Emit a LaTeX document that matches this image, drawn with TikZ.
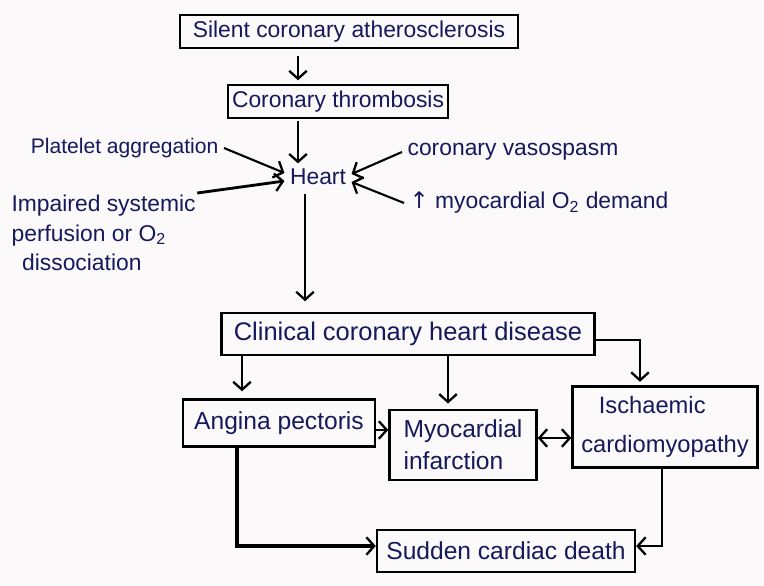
\documentclass[tikz,border=0pt]{standalone}
\usepackage{fontspec}
\setmainfont{Liberation Sans}
\newfontfamily\symfont{DejaVu Sans}
\usetikzlibrary{arrows.meta,calc}

\definecolor{ink}{HTML}{16195C}
\definecolor{paper}{HTML}{FBF9FA}

\tikzset{
  box/.style={draw=black, line width=1.4pt, text=ink, inner sep=2pt},
  lbl/.style={text=ink, inner sep=3pt},
  barb/.tip={Straight Barb[length=4.5pt,width=10pt,line width=1.3pt]},
  arr/.style={draw=black, line width=1.2pt, -barb},
  darr/.style={draw=black, line width=1.2pt, barb-barb},
}

\begin{document}
\begin{tikzpicture}[x=0.02cm, y=-0.02cm]
  % canvas
  \fill[paper] (0,0) rectangle (764,585);
  \useasboundingbox (0,0) rectangle (764,585);

  % boxed stages
  \node[box, minimum width=6.76cm, minimum height=0.66cm, font=\fontsize{13}{15}\selectfont]
    (silent) at (349,31.5) {Silent coronary atherosclerosis};
  \node[box, minimum width=4.4cm, minimum height=0.66cm, font=\fontsize{13}{15}\selectfont]
    (thromb) at (338,101.5) {Coronary thrombosis};
  \node[box, minimum width=7.46cm, minimum height=0.84cm, font=\fontsize{14.5}{16}\selectfont]
    (clin) at (408,334) {Clinical coronary heart disease};
  \node[box, minimum width=3.84cm, minimum height=0.94cm, font=\fontsize{14}{16}\selectfont]
    (angina) at (279,423) {Angina pectoris};
  \node[box, minimum width=2.94cm, minimum height=1.4cm, align=left, font=\fontsize{14}{18}\selectfont]
    (mi) at (463,445) {Myocardial\\infarction};
  \node[box, minimum width=3.7cm, minimum height=1.62cm, align=left, font=\fontsize{13.5}{22}\selectfont]
    (ic) at (665,427) {\hspace*{10pt}Ischaemic\\cardiomyopathy};
  \node[box, minimum width=5.16cm, minimum height=0.84cm, font=\fontsize{14}{16}\selectfont]
    (scd) at (506,551) {Sudden cardiac death};

  % the heart and the factors acting on it
  \node[lbl, font=\fontsize{13}{15}\selectfont] (heart) at (318,177) {Heart};
  \node[lbl, anchor=east, font=\fontsize{12}{14}\selectfont] (plat) at (224,148) {Platelet aggregation};
  \node[lbl, anchor=north west, align=left, font=\fontsize{13}{17}\selectfont]
    (imp) at (6,189) {Impaired systemic\\perfusion or O\textsubscript{2}\\\hspace*{6pt}dissociation};
  \node[lbl, anchor=west, font=\fontsize{13}{15}\selectfont] (vaso) at (402,152) {coronary vasospasm};
  \node[lbl, anchor=west, font=\fontsize{13}{15}\selectfont] (dem) at (404,203)
    {{\symfont ↑} myocardial O\textsubscript{2} demand};

  % columns and rows that the connectors follow
  \coordinate (k1) at (298,0);
  \coordinate (k2) at (305,0);
  \coordinate (k3) at (242,0);
  \coordinate (k4) at (448,0);
  \coordinate (k5) at (640,0);
  \coordinate (k6) at (237,0);
  \coordinate (k7) at (662,0);
  \coordinate (r1) at (0,340);
  \coordinate (r2) at (0,430);
  \coordinate (r3) at (0,438);
  \coordinate (r4) at (0,546);

  % main chain
  \draw[arr, shorten <=4pt, shorten >=2pt] (silent.south -| k1) -- (thromb.north -| k1);
  \draw[arr, shorten <=1pt] (thromb.south -| k1) -- (heart.north -| k1);
  \draw[arr, shorten <=2pt, shorten >=6pt] (heart.south -| k2) -- (clin.north -| k2);

  % contributing factors
  \draw[arr] (plat.east) -- ($(heart.west)+(0,-4)$);
  \draw[arr, line width=1.6pt] ($(imp.north east)+(-4,4)$) -- ($(heart.west)+(0,4)$);
  \draw[arr] (vaso.west) -- ($(heart.east)+(0,-3)$);
  \draw[arr] (dem.west) -- ($(heart.east)+(0,5)$);

  % outcomes of clinical disease
  \draw[arr, shorten >=4pt] (clin.south -| k3) -- (angina.north -| k3);
  \draw[arr, shorten >=3pt] (clin.south -| k4) -- (mi.north -| k4);
  \draw[arr, shorten >=2pt] (clin.east |- r1) -| (ic.north -| k5);
  \draw[arr] (angina.east |- r2) -- (mi.west |- r2);
  \draw[darr] (mi.east |- r3) -- (ic.west |- r3);
  \draw[arr, line width=2.2pt] (angina.south -| k6) |- (scd.west |- r4);
  \draw[arr] (ic.south -| k7) |- (scd.east |- r4);
\end{tikzpicture}
\end{document}
